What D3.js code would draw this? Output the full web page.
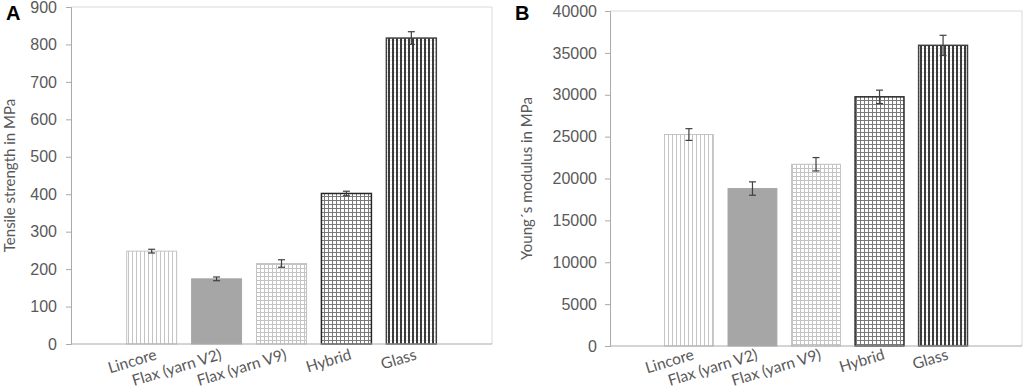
<!DOCTYPE html>
<html>
<head>
<meta charset="utf-8">
<script src="https://cdn.jsdelivr.net/npm/d3@7"></script>
<style>
  body { margin: 0; background: #fff; }
  svg { display: block; font-family: Lato, "Open Sans", sans-serif; }
</style>
</head>
<body>
<svg id="chart" width="1024" height="390"></svg>
<script>
const categories = ["Lincore", "Flax (yarn V2)", "Flax (yarn V9)", "Hybrid", "Glass"];

const tensileValues = [248, 174, 215, 402, 817];
const tensileErrors = [5, 5, 10, 6, 17];
const tensileTicks = [0, 100, 200, 300, 400, 500, 600, 700, 800, 900];

const modulusValues = [25250, 18800, 21700, 29750, 35900];
const modulusErrors = [700, 800, 800, 800, 1200];
const modulusTicks = [0, 5000, 10000, 15000, 20000, 25000, 30000, 35000, 40000];

const svg = d3.select("#chart");
const textColor = "#595959";

// hatch patterns, one per category
const defs = svg.append("defs");

function linePattern(id, color, width, grid, faint) {
  const p = defs.append("pattern")
    .attr("id", id)
    .attr("patternUnits", "userSpaceOnUse")
    .attr("width", 4).attr("height", 4);
  p.append("rect").attr("width", 4).attr("height", 4).attr("fill", "#fff");
  if (faint) {
    p.append("line").attr("x1", 0).attr("x2", 4).attr("y1", 0.5).attr("y2", 0.5)
      .attr("stroke", faint).attr("stroke-width", 1);
  }
  if (grid) {
    p.append("line").attr("x1", 0).attr("x2", 4).attr("y1", 0.5).attr("y2", 0.5)
      .attr("stroke", color).attr("stroke-width", 1);
  }
  p.append("line").attr("x1", width / 2).attr("x2", width / 2)
    .attr("y1", 0).attr("y2", 4)
    .attr("stroke", color).attr("stroke-width", width);
}

linePattern("p-lincore", "#c4c4c4", 1, false);
linePattern("p-v9", "#c4c4c4", 1, true);
linePattern("p-hybrid", "#7a7a7a", 1, true);
linePattern("p-glass", "#3c3c3c", 2, false, "#e4e4e4");

const fills = ["url(#p-lincore)", "#a6a6a6", "url(#p-v9)", "url(#p-hybrid)", "url(#p-glass)"];
const strokes = ["#c4c4c4", "#a6a6a6", "#c4c4c4", "#262626", "#404040"];

function drawPanel(cfg) {
  const g = svg.append("g");

  const x = d3.scaleBand()
    .domain(categories)
    .range([cfg.left, cfg.right])
    .paddingInner(0.215)
    .paddingOuter(0.85);

  const y = d3.scaleLinear()
    .domain([0, cfg.max])
    .range([cfg.bottom, cfg.top]);

  // plot border (top/right)
  g.append("path")
    .attr("d", `M${cfg.left},${cfg.top}H${cfg.right}V${cfg.bottom}`)
    .attr("fill", "none")
    .attr("stroke", "#d9d9d9");

  // bars
  g.selectAll("rect.bar")
    .data(cfg.values)
    .join("rect")
      .attr("class", "bar")
      .attr("x", (d, i) => x(categories[i]) + 0.5)
      .attr("width", x.bandwidth() - 1)
      .attr("y", d => y(d))
      .attr("height", d => y(0) - y(d))
      .attr("fill", (d, i) => fills[i])
      .attr("stroke", (d, i) => strokes[i])
      .attr("stroke-width", (d, i) => i >= 3 ? 1.5 : 1);

  // error bars
  const eb = g.selectAll("g.err")
    .data(cfg.values)
    .join("g")
      .attr("class", "err")
      .attr("stroke", "#404040")
      .attr("stroke-width", 1.2);

  eb.append("line")
    .attr("x1", (d, i) => x(categories[i]) + x.bandwidth() / 2)
    .attr("x2", (d, i) => x(categories[i]) + x.bandwidth() / 2)
    .attr("y1", (d, i) => y(d + cfg.errors[i]))
    .attr("y2", (d, i) => y(d - cfg.errors[i]));
  eb.selectAll("line.cap")
    .data((d, i) => [[i, d + cfg.errors[i]], [i, d - cfg.errors[i]]])
    .join("line")
      .attr("class", "cap")
      .attr("x1", d => x(categories[d[0]]) + x.bandwidth() / 2 - 3.5)
      .attr("x2", d => x(categories[d[0]]) + x.bandwidth() / 2 + 3.5)
      .attr("y1", d => y(d[1]))
      .attr("y2", d => y(d[1]));

  // y axis
  const yAxis = g.append("g")
    .attr("transform", `translate(${cfg.left},0)`)
    .call(d3.axisLeft(y).tickValues(cfg.ticks).tickSize(5).tickPadding(cfg.tickPad).tickFormat(d3.format("d")));
  yAxis.select(".domain").attr("stroke", "#aaaaaa");
  yAxis.selectAll(".tick line").attr("stroke", "#aaaaaa");
  yAxis.selectAll(".tick text")
    .attr("fill", textColor)
    .style("font-size", "16px");

  // x axis line
  g.append("line")
    .attr("x1", cfg.left).attr("x2", cfg.right)
    .attr("y1", cfg.bottom).attr("y2", cfg.bottom)
    .attr("stroke", "#aaaaaa");

  // category labels, slanted
  g.selectAll("text.cat")
    .data(categories)
    .join("text")
      .attr("class", "cat")
      .attr("text-anchor", "end")
      .attr("transform", d => `translate(${x(d) + x.bandwidth() / 2 + 6},359) rotate(-17)`)
      .attr("fill", textColor)
      .style("font-size", "15.5px")
      .text(d => d);

  // y title
  g.append("text")
    .attr("transform", `translate(${cfg.titleX},${(cfg.top + cfg.bottom) / 2}) rotate(-90)`)
    .attr("text-anchor", "middle")
    .attr("fill", textColor)
    .style("font-size", "15px")
    .text(cfg.title);

  // panel letter
  g.append("text")
    .attr("x", cfg.letterX).attr("y", 20)
    .attr("fill", "#000")
    .style("font-size", "20px")
    .style("font-weight", "bold")
    .style("font-family", "Liberation Sans, Arial, sans-serif")
    .text(cfg.letter);
}

drawPanel({
  letter: "A", letterX: 6,
  left: 71, right: 492, top: 7, bottom: 344,
  max: 900, ticks: tensileTicks, tickPad: 9,
  values: tensileValues, errors: tensileErrors,
  title: "Tensile strength in MPa", titleX: 15
});

drawPanel({
  letter: "B", letterX: 515,
  left: 610, right: 1022, top: 11, bottom: 346,
  max: 40000, ticks: modulusTicks, tickPad: 8,
  values: modulusValues, errors: modulusErrors,
  title: "Young´s modulus in MPa", titleX: 532
});
</script>
</body>
</html>
